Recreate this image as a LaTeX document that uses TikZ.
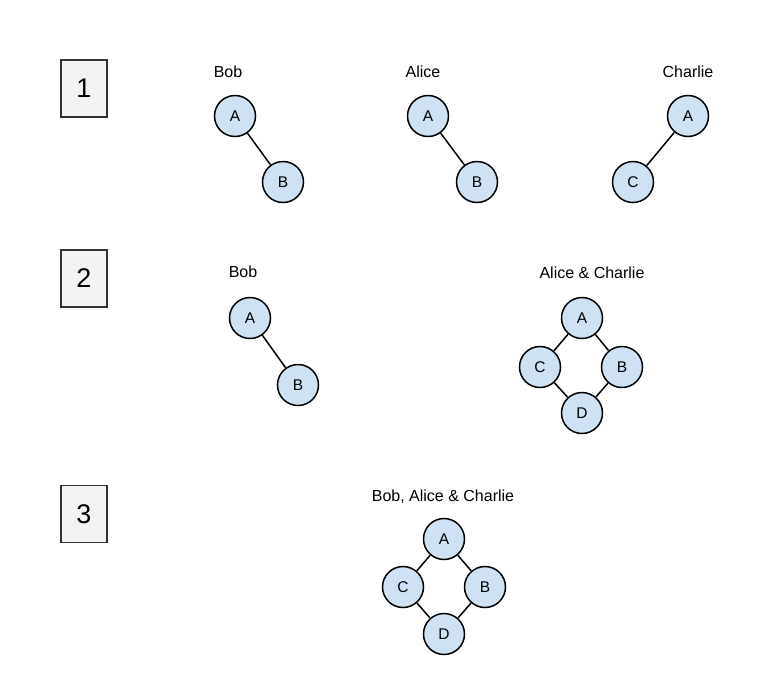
\documentclass[tikz,border=0pt]{standalone}
\usepackage{fontspec}
\setmainfont{Liberation Sans}
\tikzset{
  peer/.style={circle, draw=black, line width=1.5pt, fill=peerblue, minimum size=41pt, inner sep=0pt, font=\fontsize{15.5}{18}\selectfont},
  stagebox/.style={draw=black!80, line width=1.5pt, fill=boxgray, minimum width=46pt, minimum height=57pt, inner sep=0pt, font=\fontsize{27}{30}\selectfont},
  owner/.style={font=\fontsize{16}{19}\selectfont},
  link/.style={line width=1.5pt}
}
\definecolor{peerblue}{HTML}{CFE2F3}
\definecolor{boxgray}{HTML}{F3F3F3}
\begin{document}
\begin{tikzpicture}[x=1pt, y=-1pt]
\useasboundingbox[fill=white] (0,0) rectangle (769,694);
% stage numbers
\node[stagebox] (s1) at (84,88.5) {1};
\node[stagebox] (s2) at (84,278.5) {2};
\node[stagebox] (s3) at (84,514) {3};
% stage 1
\node[owner] (bob1) at (228,72) {Bob};
\node[peer] (bobA) at (235,116) {A};
\node[peer] (bobB) at (283,182) {B};
\draw[link] (bobA) -- (bobB);
\node[owner] (alice1) at (423,72) {Alice};
\node[peer] (aliceA) at (428,116) {A};
\node[peer] (aliceB) at (477,182) {B};
\draw[link] (aliceA) -- (aliceB);
\node[owner] (charlie1) at (688,72) {Charlie};
\node[peer] (charlieA) at (688,116) {A};
\node[peer] (charlieC) at (633,182) {C};
\draw[link] (charlieA) -- (charlieC);
% stage 2
\node[owner] (bob2) at (243,272) {Bob};
\node[peer] (bob2A) at (250,318) {A};
\node[peer] (bob2B) at (298,385) {B};
\draw[link] (bob2A) -- (bob2B);
\node[owner] (ac) at (592,273) {Alice \& Charlie};
\node[peer] (acA) at (582,318) {A};
\node[peer] (acC) at (540,367) {C};
\node[peer] (acB) at (622,367) {B};
\node[peer] (acD) at (582,413) {D};
\draw[link] (acA) -- (acC) -- (acD) -- (acB) -- (acA);
% stage 3
\node[owner] (all) at (443,497) {Bob, Alice \& Charlie};
\node[peer] (allA) at (444,539) {A};
\node[peer] (allC) at (403,587) {C};
\node[peer] (allB) at (485,587) {B};
\node[peer] (allD) at (444,634) {D};
\draw[link] (allA) -- (allC) -- (allD) -- (allB) -- (allA);
\end{tikzpicture}
\end{document}
